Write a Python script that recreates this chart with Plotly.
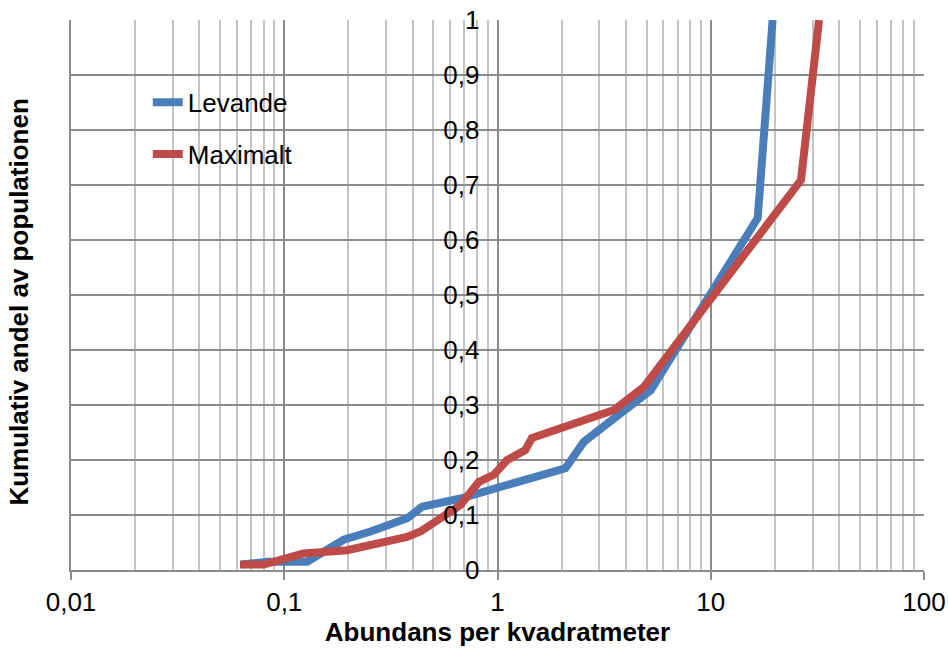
import plotly.graph_objects as go

# Cumulative share of the population vs. abundance per square metre
levande_x = [0.063, 0.083, 0.128, 0.19, 0.254, 0.377, 0.443, 0.67, 2.08, 2.54, 3.78, 5.23, 16.6, 19.5]
levande_y = [0.01, 0.015, 0.015, 0.055, 0.07, 0.094, 0.115, 0.13, 0.185, 0.233, 0.285, 0.327, 0.64, 1.0]

maximalt_x = [0.062, 0.08, 0.123, 0.197, 0.377, 0.435, 0.521, 0.67, 0.817, 0.96, 1.11, 1.35, 1.45,
              3.52, 4.86, 26.5, 32.2]
maximalt_y = [0.01, 0.01, 0.03, 0.036, 0.06, 0.07, 0.09, 0.118, 0.16, 0.173, 0.2, 0.218, 0.24,
              0.291, 0.333, 0.709, 1.0]

x_tickvals = [0.01, 0.1, 1, 10, 100]
x_ticktext = ["0,01", "0,1", "1", "10", "100"]
y_tickvals = [0, 0.1, 0.2, 0.3, 0.4, 0.5, 0.6, 0.7, 0.8, 0.9, 1.0]
y_ticktext = ["0", "0,1", "0,2", "0,3", "0,4", "0,5", "0,6", "0,7", "0,8", "0,9", "1"]

FONT = "Liberation Sans, Arial, sans-serif"
MAJOR = "#8c8c8c"
MINOR = "#c4c4c4"

fig = go.Figure()
fig.add_trace(go.Scatter(x=levande_x, y=levande_y, mode="lines", name="Levande",
                         legendgroup="a",
                         line=dict(color="#4a7ebb", width=8)))
fig.add_trace(go.Scatter(x=maximalt_x, y=maximalt_y, mode="lines", name="Maximalt",
                         legendgroup="b",
                         line=dict(color="#be4b48", width=8)))

fig.update_layout(
    width=948, height=648,
    margin=dict(l=71, r=24, t=20, b=78),
    paper_bgcolor="white", plot_bgcolor="white",
    font=dict(family=FONT, size=26, color="black"),
    showlegend=True,
    legend=dict(x=0.09, y=0.893, xanchor="left", yanchor="top",
                bgcolor="rgba(0,0,0,0)", font=dict(size=26),
                tracegroupgap=15),
    xaxis=dict(
        type="log", range=[-2, 2], automargin=False,
        tickvals=x_tickvals, ticktext=x_ticktext,
        showgrid=True, gridcolor=MAJOR, gridwidth=2,
        minor=dict(showgrid=True, gridcolor=MINOR, gridwidth=2, dtick="D1", ticks=""),
        showline=True, linecolor=MAJOR, linewidth=2,
        ticks="outside", ticklen=8, tickwidth=2, tickcolor=MAJOR,
        ticklabelstandoff=0,
        zeroline=False,
        title=dict(text="<b>Abundans per kvadratmeter</b>", standoff=0,
                   font=dict(size=26)),
    ),
    yaxis=dict(
        range=[0, 1], anchor="free", position=0.5, automargin=False,
        tickvals=y_tickvals, ticktext=y_ticktext,
        showgrid=True, gridcolor=MAJOR, gridwidth=2,
        showline=False, ticks="", ticklabelstandoff=18,
        zeroline=False,
    ),
    # left frame line at the start of the x range
    yaxis2=dict(
        range=[0, 1], overlaying="y", side="left", anchor="x", automargin=False,
        showline=True, linecolor=MAJOR, linewidth=2,
        showgrid=False, showticklabels=False, ticks="", zeroline=False,
    ),
    annotations=[dict(
        text="<b>Kumulativ andel av populationen</b>",
        xref="paper", yref="paper", x=-0.061, y=0.488,
        xanchor="center", yanchor="middle", textangle=-90,
        showarrow=False, font=dict(size=26, family=FONT),
    )],
)
# y2 needs a trace to be drawn; an empty one keeps the frame line visible
fig.add_trace(go.Scatter(x=[], y=[], yaxis="y2", showlegend=False, hoverinfo="skip"))

fig.write_html("out.html")
